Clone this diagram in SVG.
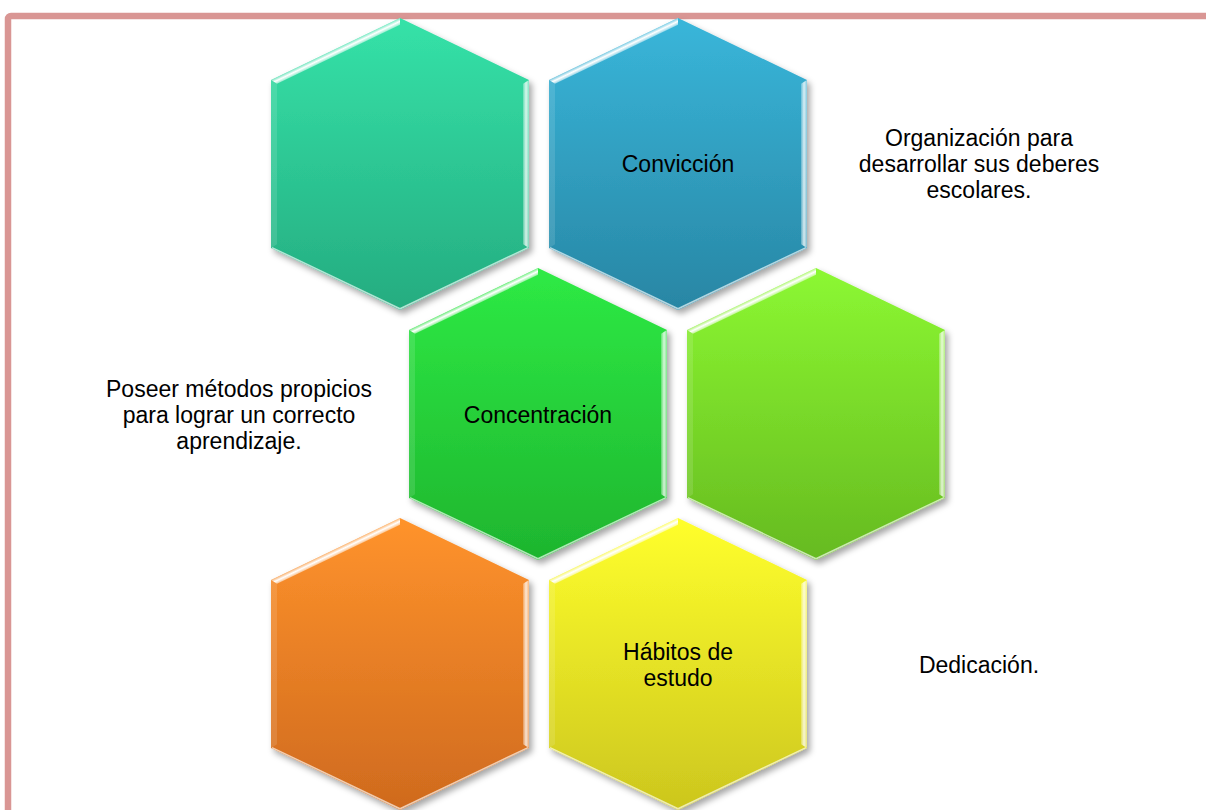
<svg xmlns="http://www.w3.org/2000/svg" xmlns:xlink="http://www.w3.org/1999/xlink" width="1206" height="810" viewBox="0 0 1206 810">
  <style>
    .lbl { font-family: "Liberation Sans", Arial, sans-serif; font-size: 23px; fill: #000; text-anchor: middle; }
  </style>
  <defs>
    <filter id="shadow" x="-10%" y="-10%" width="125%" height="125%">
      <feDropShadow dx="3" dy="4" stdDeviation="3" flood-color="#000" flood-opacity="0.35"/>
    </filter>
    <linearGradient id="gTeal" x1="0" y1="0" x2="0" y2="1"><stop offset="0" stop-color="#35E2A8"/><stop offset="1" stop-color="#25AC80"/></linearGradient>
    <linearGradient id="gBlue" x1="0" y1="0" x2="0" y2="1"><stop offset="0" stop-color="#39B6DA"/><stop offset="1" stop-color="#2886A4"/></linearGradient>
    <linearGradient id="gGreen" x1="0" y1="0" x2="0" y2="1"><stop offset="0" stop-color="#2EEA45"/><stop offset="1" stop-color="#1EB52E"/></linearGradient>
    <linearGradient id="gLime" x1="0" y1="0" x2="0" y2="1"><stop offset="0" stop-color="#8CF832"/><stop offset="1" stop-color="#66BA20"/></linearGradient>
    <linearGradient id="gOrange" x1="0" y1="0" x2="0" y2="1"><stop offset="0" stop-color="#FF932C"/><stop offset="1" stop-color="#CF6A1E"/></linearGradient>
    <linearGradient id="gYellow" x1="0" y1="0" x2="0" y2="1"><stop offset="0" stop-color="#FFFF2C"/><stop offset="1" stop-color="#CCC61E"/></linearGradient>
    <linearGradient id="hlTL" gradientUnits="userSpaceOnUse" x1="64.5" y1="31" x2="67.1" y2="36.4">
      <stop offset="0" stop-color="#fff" stop-opacity="0.35"/>
      <stop offset="0.5" stop-color="#fff" stop-opacity="1"/>
      <stop offset="1" stop-color="#fff" stop-opacity="0.5"/>
    </linearGradient>
    <linearGradient id="hlR" gradientUnits="userSpaceOnUse" x1="252" y1="0" x2="258" y2="0">
      <stop offset="0" stop-color="#fff" stop-opacity="0.25"/>
      <stop offset="0.5" stop-color="#fff" stop-opacity="0.8"/>
      <stop offset="1" stop-color="#fff" stop-opacity="0.4"/>
    </linearGradient>
    <polygon id="hexShape" points="129,0 258,62 258,230 129,292 0,230 0,62"/>
    <g id="bevel">
      <polygon points="0,62 129,0 129,6.7 6,65.8" fill="url(#hlTL)"/>
      <polygon points="258,62 258,230 252,226.2 252,65.8" fill="url(#hlR)"/>
      <polygon points="0,230 0,62 6,65.8 6,226.2" fill="#fff" fill-opacity="0.12"/>
      <polyline points="1,229.6 129,290.8 257,229.6" fill="none" stroke="#fff" stroke-opacity="0.65" stroke-width="1.5"/>
    </g>
  </defs>

  <rect id="frame" x="8" y="16" width="1230" height="830" rx="3" fill="none" stroke="#D99694" stroke-width="6.5"/>

  <g id="hex-teal" transform="translate(271,18)">
    <use href="#hexShape" fill="url(#gTeal)" filter="url(#shadow)"/>
    <use href="#bevel"/>
  </g>
  <g id="hex-conviccion" transform="translate(549,18)">
    <use href="#hexShape" fill="url(#gBlue)" filter="url(#shadow)"/>
    <use href="#bevel"/>
  </g>
  <g id="hex-concentracion" transform="translate(409,268)">
    <use href="#hexShape" fill="url(#gGreen)" filter="url(#shadow)"/>
    <use href="#bevel"/>
  </g>
  <g id="hex-lime" transform="translate(687,268)">
    <use href="#hexShape" fill="url(#gLime)" filter="url(#shadow)"/>
    <use href="#bevel"/>
  </g>
  <g id="hex-orange" transform="translate(271,518)">
    <use href="#hexShape" fill="url(#gOrange)" filter="url(#shadow)"/>
    <use href="#bevel"/>
  </g>
  <g id="hex-habitos" transform="translate(549,518)">
    <use href="#hexShape" fill="url(#gYellow)" filter="url(#shadow)"/>
    <use href="#bevel"/>
  </g>

  <g id="labels">
    <text class="lbl" x="678" y="172">Convicción</text>
    <text class="lbl" x="538" y="423">Concentración</text>
    <text class="lbl" x="678" y="660">Hábitos de</text>
    <text class="lbl" x="678" y="686">estudo</text>
  </g>

  <g id="note-organizacion">
    <text class="lbl" x="979" y="146">Organización para</text>
    <text class="lbl" x="979" y="172">desarrollar sus deberes</text>
    <text class="lbl" x="979" y="198">escolares.</text>
  </g>
  <g id="note-poseer">
    <text class="lbl" x="239" y="397">Poseer métodos propicios</text>
    <text class="lbl" x="239" y="423">para lograr un correcto</text>
    <text class="lbl" x="239" y="449">aprendizaje.</text>
  </g>
  <g id="note-dedicacion">
    <text class="lbl" x="979" y="673">Dedicación.</text>
  </g>
</svg>
